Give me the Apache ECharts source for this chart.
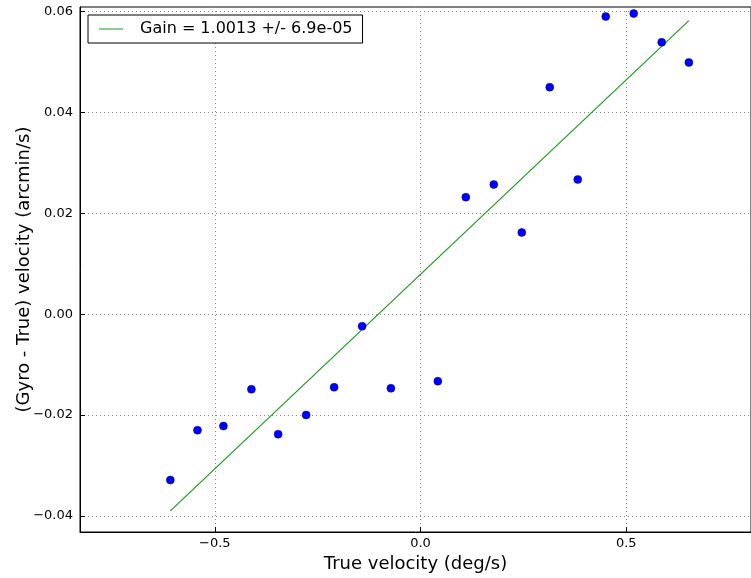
<!DOCTYPE html>
<html>
<head>
<meta charset="utf-8">
<script src="https://cdn.jsdelivr.net/npm/echarts@6/dist/echarts.min.js"></script>
<style>
  html, body { margin: 0; padding: 0; background: #fff; }
  #chart { width: 751px; height: 578px; }
</style>
</head>
<body>
<div id="chart"></div>
<script>
// measured points (true velocity deg/s, gyro - true arcmin/s)
const trueVel = [-0.608, -0.542, -0.479, -0.411, -0.346, -0.278, -0.210, -0.142, -0.072, 0.042,
  0.110, 0.178, 0.246, 0.314, 0.382, 0.450, 0.518, 0.586, 0.652];
const diffVel = [-0.0329, -0.0230, -0.0222, -0.0149, -0.0238, -0.0200, -0.0145, -0.0024, -0.0147, -0.0133,
  0.0232, 0.0257, 0.0162, 0.0450, 0.0267, 0.0590, 0.0596, 0.0539, 0.0499];

// fitted line end points
const fitX = [-0.608, 0.652];
const fitY = [-0.0390, 0.0582];

const xTicks = [-0.5, 0.0, 0.5];
const xTickLabels = ['\u22120.5', '0.0', '0.5'];
const yTicks = [-0.04, -0.02, 0.0, 0.02, 0.04, 0.06];
const yTickLabels = ['\u22120.04', '\u22120.02', '0.00', '0.02', '0.04', '0.06'];

const legendName = 'Gain = 1.0013 +/- 6.9e-05';
const font = 'DejaVu Sans';

const chart = echarts.init(document.getElementById('chart'));

const labelFor = (ticks, labels) => v => {
  const i = ticks.findIndex(t => Math.abs(t - v) < 1e-9);
  return i >= 0 ? labels[i] : '';
};

const gridLine = { show: true, lineStyle: { color: '#888', type: [1, 3], width: 1 } };

chart.setOption({
  animation: false,
  grid: {
    left: 80, top: 7, right: 0, bottom: 46,
    outerBoundsMode: 'none', containLabel: false,
    show: true, borderColor: '#000', borderWidth: 1
  },
  legend: {
    left: 88, top: 15,
    data: [{ name: legendName, icon: 'rect' }],
    itemWidth: 24, itemHeight: 1,
    padding: [6, 10, 6, 11],
    backgroundColor: '#fff',
    borderColor: '#000', borderWidth: 1, borderRadius: 0,
    textStyle: { fontFamily: font, fontSize: 16, color: '#000', padding: [0, 0, 0, 12] }
  },
  xAxis: {
    type: 'value', min: -0.8275, max: 0.803,
    axisLine: { show: true, onZero: false, lineStyle: { color: '#000', width: 1 } },
    axisTick: { show: true, inside: true, length: 5, customValues: xTicks, lineStyle: { color: '#000' } },
    axisLabel: { customValues: xTicks, formatter: labelFor(xTicks, xTickLabels), fontFamily: font, fontSize: 13, color: '#000', margin: 5 },
    splitLine: gridLine,
    name: 'True velocity (deg/s)', nameLocation: 'middle', nameGap: 23, nameMoveOverlap: false,
    nameTextStyle: { fontFamily: font, fontSize: 18, color: '#000' }
  },
  yAxis: {
    type: 'value', min: -0.0432, max: 0.0609,
    axisLine: { show: true, onZero: false, lineStyle: { color: '#000', width: 1 } },
    axisTick: { show: true, inside: true, length: 5, customValues: yTicks, lineStyle: { color: '#000' } },
    axisLabel: { customValues: yTicks, formatter: labelFor(yTicks, yTickLabels), fontFamily: font, fontSize: 13, color: '#000', margin: 7 },
    splitLine: gridLine,
    name: '(Gyro - True) velocity (arcmin/s)', nameLocation: 'middle', nameGap: 47, nameMoveOverlap: false,
    nameTextStyle: { fontFamily: font, fontSize: 18, color: '#000' }
  },
  series: [
    {
      name: legendName,
      type: 'line',
      data: fitX.map((x, i) => [x, fitY[i]]),
      symbol: 'none',
      lineStyle: { color: '#1a9a1a', width: 1.2 },
      itemStyle: { color: '#1a9a1a' },
      z: 3
    },
    {
      name: 'data',
      type: 'scatter',
      data: trueVel.map((x, i) => [x, diffVel[i]]),
      symbolSize: 8,
      itemStyle: { color: '#0000ff', borderColor: '#00007a', borderWidth: 0.5, opacity: 1 },
      z: 4
    }
  ]
});
</script>
</body>
</html>
